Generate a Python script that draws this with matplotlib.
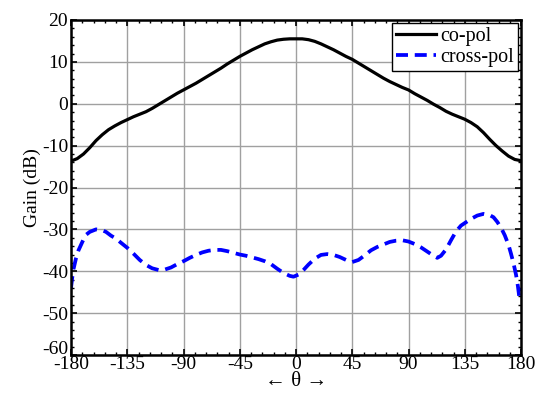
import matplotlib
matplotlib.use("Agg")
import matplotlib.pyplot as plt
import matplotlib.transforms as mtransforms
from matplotlib.ticker import MultipleLocator

plt.rcParams['font.family'] = ['Liberation Serif', 'DejaVu Serif']
plt.rcParams['axes.unicode_minus'] = False

theta_co = [-180, -175, -170, -165, -160, -155, -150, -145, -140, -135, -130, -125,
            -120, -115, -110, -105, -100, -95, -90, -85, -80, -75, -70, -65, -60, -55,
            -50, -45, -40, -35, -30, -25, -20, -15, -10, -5, 0, 5, 10, 15, 20, 25, 30,
            35, 40, 45, 50, 55, 60, 65, 70, 75, 80, 85, 90, 95, 100, 105, 110, 115, 120,
            125, 130, 135, 140, 145, 150, 155, 160, 165, 170, 175, 180]
gain_co = [-13.7, -13.1, -12.0, -10.5, -8.8, -7.4, -6.2, -5.3, -4.5, -3.8, -3.1, -2.5,
           -1.9, -1.1, -0.2, 0.7, 1.6, 2.5, 3.3, 4.1, 4.9, 5.8, 6.7, 7.6, 8.5, 9.5,
           10.4, 11.3, 12.1, 12.9, 13.6, 14.3, 14.8, 15.2, 15.4, 15.5, 15.5, 15.5, 15.3,
           14.9, 14.3, 13.6, 12.9, 12.1, 11.3, 10.6, 9.7, 8.8, 7.9, 7.0, 6.1, 5.3, 4.6,
           3.9, 3.3, 2.4, 1.6, 0.8, -0.1, -0.9, -1.8, -2.5, -3.1, -3.7, -4.5, -5.5, -6.9,
           -8.5, -10.0, -11.3, -12.5, -13.3, -13.6]

theta_x = [-180, -179, -178, -176, -174, -172, -170, -168, -165, -160, -155, -152, -148,
           -144, -140, -135, -130, -125, -120, -115, -110, -105, -100, -95, -90, -85,
           -80, -75, -70, -65, -60, -55, -50, -45, -40, -35, -30, -25, -20, -15, -10,
           -5, -2, 2, 6, 10, 15, 20, 25, 30, 35, 40, 45, 50, 55, 60, 65, 70, 75, 80, 85,
           90, 95, 100, 105, 110, 113, 116, 120, 124, 128, 132, 136, 140, 145, 150, 155,
           158, 161, 164, 167, 170, 172, 174, 176, 177.5, 178.6, 179.3, 180]
gain_x = [-44.0, -41.5, -39.5, -36.9, -35.0, -33.7, -32.4, -31.3, -30.6, -30.0, -30.2,
          -30.6, -31.5, -32.2, -33.2, -34.4, -35.8, -37.3, -38.5, -39.3, -39.7, -39.6,
          -39.1, -38.3, -37.6, -36.8, -36.1, -35.5, -35.1, -34.9, -34.9, -35.2, -35.6,
          -36.0, -36.3, -36.7, -37.1, -37.6, -38.3, -39.4, -40.4, -41.1, -41.3, -40.8,
          -39.7, -38.4, -37.0, -36.1, -35.9, -36.1, -36.6, -37.3, -37.8, -37.3, -36.2,
          -35.0, -34.2, -33.6, -33.0, -32.7, -32.6, -32.9, -33.5, -34.3, -35.3, -36.3,
          -36.8, -36.3, -34.8, -32.6, -30.5, -29.1, -28.3, -27.5, -26.7, -26.3, -26.6,
          -27.1, -28.2, -29.6, -31.4, -33.7, -35.8, -38.1, -40.8, -43.5, -46.1, -45.2,
          -44.0]

xticks = [-180, -135, -90, -45, 0, 45, 90, 135, 180]
yticks = [-60, -50, -40, -30, -20, -10, 0, 10, 20]

fig = plt.figure(figsize=(5.4, 3.94), dpi=100)
ax = fig.add_axes([71/540, 1 - 355/394, 450/540, 335/394])

ax.plot(theta_co, gain_co, color='black', lw=2.3, label='co-pol')
ax.plot(theta_x, gain_x, color='#0000ff', lw=2.7, ls=(0, (3.2, 1.8)), label='cross-pol')

ax.set_xlim(-180, 180)
ax.set_ylim(-60, 20)
ax.set_xticks(xticks)
ax.set_yticks(yticks)
ax.xaxis.set_minor_locator(MultipleLocator(9))
ax.yaxis.set_minor_locator(MultipleLocator(2))
ax.tick_params(which='both', direction='in', top=True, right=True, labelsize=14)
ax.tick_params(which='major', length=4, width=1.2)
ax.tick_params(which='minor', length=2.5, width=1)
ax.tick_params(axis='x', pad=1)
ax.tick_params(axis='y', pad=2)
for s in ax.spines.values():
    s.set_linewidth(1.8)
ax.grid(True, which='major', color='#a0a0a0', lw=1.0)
ax.set_axisbelow(True)

# nudge the bottom y label up slightly, as in the reference
lbl = ax.get_yticklabels()[0]
lbl.set_transform(lbl.get_transform() + mtransforms.ScaledTranslation(0, 7/100, fig.dpi_scale_trans))

ax.set_ylabel('Gain (dB)', fontsize=14, labelpad=1)
ax.set_xlabel('\u2190 \u03b8 \u2192', fontsize=15, labelpad=-1)

leg = ax.legend(loc='upper right', fontsize=14.5, frameon=True, fancybox=False,
                edgecolor='black', framealpha=1, borderpad=0.2, labelspacing=0.1,
                handlelength=2.0, handletextpad=0.2, borderaxespad=0.15)
leg.get_frame().set_linewidth(1.0)

fig.savefig('out.png', dpi=100)
